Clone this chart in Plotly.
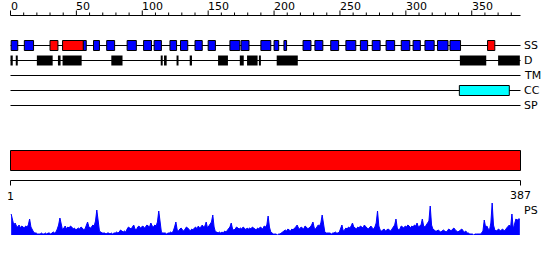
import plotly.graph_objects as go

# ---------------- data ----------------
SEQ_LEN = 387
TRACKS = ["SS", "D", "TM", "CC", "SP"]

helix_start = [0.5, 10.5, 55, 63, 73, 88.5, 101, 109, 121, 129, 140, 150, 166.5, 175, 190, 200,
               207.5, 222, 231, 243, 254.5, 265.5, 274.5, 285, 296.5, 305.5, 314.5, 324, 333.5]
helix_end = [5.5, 17.5, 57.5, 67.5, 79, 95.5, 107, 114.5, 126, 134.5, 145.5, 155.5, 174, 181, 197.5, 203.5,
             209.5, 228, 237, 249, 262, 271, 280.5, 291.5, 303, 311, 321.5, 332, 341.5]
strand_start = [30, 39.5, 362]
strand_end = [36, 55.2, 367.5]

disorder_start = [0, 4, 20, 36, 39.5, 76.5, 114, 116.5, 126, 136, 157.5, 174, 179.5, 188.5, 202, 341, 370]
disorder_end = [1.7, 5.5, 32, 38, 54, 85, 115.5, 118.5, 127.5, 137.7, 165, 177, 187.5, 190, 218, 361, 386.5]

tm_start, tm_end = [], []
coil_start = [340.6]
coil_end = [378.5]
sp_start, sp_end = [], []

ruler_minor = list(range(0, SEQ_LEN, 10))
ruler_major = list(range(0, SEQ_LEN, 50))

# per-residue profile score (residues 1..387)
ps_values = [
    21, 16, 10, 12, 9, 8, 10, 7, 9, 8, 7, 9, 8, 10, 16, 8, 5, 3, 2, 2,
    1, 1, 1, 2, 1, 1, 2, 1, 2, 2, 1, 2, 3, 2, 3, 6, 10, 17, 9, 5,
    7, 9, 6, 8, 7, 9, 8, 6, 7, 5, 6, 7, 6, 8, 7, 5, 6, 9, 13, 8,
    7, 8, 10, 9, 14, 25, 12, 4, 3, 2, 2, 2, 1, 2, 2, 1, 2, 1, 2, 2,
    3, 2, 3, 5, 4, 3, 4, 3, 6, 8, 7, 6, 8, 10, 6, 5, 8, 9, 7, 8,
    9, 7, 8, 10, 9, 8, 12, 9, 8, 10, 9, 13, 24, 10, 3, 2, 2, 2, 1, 2,
    2, 3, 2, 4, 8, 13, 5, 4, 6, 7, 5, 4, 6, 8, 7, 5, 4, 6, 5, 7,
    8, 6, 9, 7, 8, 10, 8, 9, 13, 7, 9, 11, 13, 20, 8, 3, 3, 2, 3, 2,
    3, 2, 4, 3, 5, 6, 8, 12, 6, 5, 6, 8, 7, 6, 7, 6, 8, 7, 5, 7,
    6, 7, 6, 8, 7, 6, 5, 7, 6, 8, 7, 6, 9, 8, 10, 19, 8, 3, 2, 1,
    1, 1, 0, 1, 1, 2, 3, 4, 5, 4, 6, 5, 4, 6, 5, 7, 8, 10, 7, 6,
    8, 7, 6, 9, 8, 6, 7, 8, 10, 13, 7, 6, 8, 10, 9, 12, 20, 9, 3, 2,
    2, 2, 2, 1, 2, 2, 3, 2, 2, 3, 6, 10, 4, 5, 7, 6, 8, 7, 9, 12,
    8, 7, 6, 8, 7, 9, 8, 7, 10, 8, 7, 6, 8, 9, 7, 6, 8, 12, 24, 9,
    5, 4, 5, 6, 4, 5, 6, 5, 4, 6, 8, 10, 16, 7, 5, 6, 9, 8, 7, 9,
    8, 10, 9, 7, 9, 8, 10, 9, 12, 8, 9, 10, 16, 9, 8, 10, 11, 14, 29, 10,
    6, 5, 4, 4, 5, 4, 3, 4, 5, 4, 3, 4, 6, 5, 4, 6, 7, 5, 4, 3,
    4, 5, 6, 4, 3, 4, 2, 2, 1, 1, 1, 0, 1, 1, 1, 1, 1, 2, 4, 15,
    8, 9, 6, 5, 12, 32, 10, 5, 4, 5, 6, 4, 5, 6, 4, 5, 7, 9, 10, 8,
    21, 6, 13, 16, 15, 16, 16,
]

# ---------------- layout constants (pixels) ----------------
W, H = 550, 260
PX_PER_RES = 510 / SEQ_LEN
X_LEFT = 10.5
x_lo = -X_LEFT / PX_PER_RES
x_hi = (W - X_LEFT) / PX_PER_RES

RULER_Y = 15.5
TRACK_Y = {"SS": 45.5, "D": 60.5, "TM": 75.5, "CC": 90.5, "SP": 105.5}
BOX_HALF = 5
BAR_Y0, BAR_Y1 = 150.5, 170.5
RULER2_Y = 180.5
PROF_BASE, PROF_TOP = 235, 200
FONT = dict(family="DejaVu Sans", size=11, color="black")

fig = go.Figure()
shapes = []
ann = []

def hline(y, x0, x1, w=1, color="black"):
    shapes.append(dict(type="line", xref="x", yref="y", x0=x0, x1=x1, y0=y, y1=y,
                       line=dict(color=color, width=w)))

def box(x0, x1, yc, fill, half=BOX_HALF, outline=True):
    shapes.append(dict(type="rect", xref="x", yref="y", x0=x0, x1=x1, y0=yc - half, y1=yc + half,
                       fillcolor=fill, line=dict(color="black", width=1 if outline else 0)))

# top ruler
hline(RULER_Y, 0, SEQ_LEN)
for t in ruler_minor:
    top = RULER_Y - (5 if t in ruler_major else 3)
    shapes.append(dict(type="line", xref="x", yref="y", x0=t, x1=t, y0=RULER_Y, y1=top,
                       line=dict(color="black", width=1)))
for t in ruler_major:
    ann.append(dict(x=t, y=6, xref="x", yref="y", text=str(t), showarrow=False,
                    xanchor="left", yanchor="middle", xshift=-2, font=FONT))

# track lines + labels
for name in TRACKS:
    y = TRACK_Y[name]
    hline(y, 0, SEQ_LEN)
    ann.append(dict(x=SEQ_LEN, y=y, xref="x", yref="y", text=name, showarrow=False,
                    xanchor="left", yanchor="middle", xshift=1, font=FONT))

# features
for s, e in zip(helix_start, helix_end):
    box(s, e, TRACK_Y["SS"], "#0000ff")
for s, e in zip(strand_start, strand_end):
    box(s, e, TRACK_Y["SS"], "#ff0000")
for s, e in zip(disorder_start, disorder_end):
    box(s, e, TRACK_Y["D"], "black", outline=False)
for s, e in zip(tm_start, tm_end):
    box(s, e, TRACK_Y["TM"], "#ffff00")
for s, e in zip(coil_start, coil_end):
    box(s, e, TRACK_Y["CC"], "#00ffff")
for s, e in zip(sp_start, sp_end):
    box(s, e, TRACK_Y["SP"], "#00ff00")

# red domain bar
shapes.append(dict(type="rect", xref="x", yref="y", x0=0, x1=SEQ_LEN, y0=BAR_Y0, y1=BAR_Y1,
                   fillcolor="#ff0000", line=dict(color="black", width=1)))

# bottom ruler
hline(RULER2_Y, 0, SEQ_LEN)
for t in (0, SEQ_LEN):
    shapes.append(dict(type="line", xref="x", yref="y", x0=t, x1=t, y0=RULER2_Y, y1=RULER2_Y + 5,
                       line=dict(color="black", width=1)))
ann.append(dict(x=0, y=196, xref="x", yref="y", text="1", showarrow=False,
                xanchor="center", yanchor="middle", font=FONT))
ann.append(dict(x=SEQ_LEN, y=195, xref="x", yref="y", text=str(SEQ_LEN), showarrow=False,
                xanchor="center", yanchor="middle", font=FONT))
ann.append(dict(x=SEQ_LEN, y=210, xref="x", yref="y", text="PS", showarrow=False,
                xanchor="left", yanchor="middle", xshift=1, font=FONT))

# dummy trace to hold main axes
fig.add_trace(go.Scatter(x=[0], y=[0], mode="markers", marker=dict(opacity=0),
                         hoverinfo="skip", xaxis="x", yaxis="y"))

# profile
res_x = [i + 0.5 for i in range(len(ps_values))]
fig.add_trace(go.Scatter(x=res_x, y=ps_values, mode="lines", fill="tozeroy",
                         line=dict(color="#0000ff", width=1), fillcolor="#0000ff",
                         hoverinfo="skip", xaxis="x", yaxis="y2"))

fig.update_layout(
    width=W, height=H, margin=dict(l=0, r=0, t=0, b=0),
    paper_bgcolor="white", plot_bgcolor="white", showlegend=False,
    xaxis=dict(range=[x_lo, x_hi], visible=False, fixedrange=True),
    yaxis=dict(range=[H, 0], visible=False, domain=[0, 1], fixedrange=True),
    yaxis2=dict(range=[0, 35], visible=False, fixedrange=True, overlaying=None,
                domain=[(H - PROF_BASE) / H, (H - PROF_TOP) / H], anchor="x"),
    shapes=shapes, annotations=ann,
)

fig.write_html("out.html")
